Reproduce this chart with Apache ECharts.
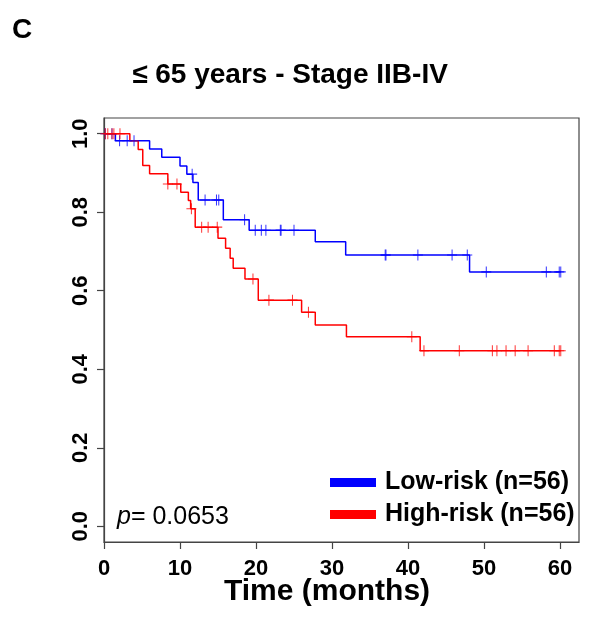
<!DOCTYPE html>
<html>
<head>
<meta charset="utf-8">
<script src="https://cdn.jsdelivr.net/npm/echarts@6/dist/echarts.min.js"></script>
<style>
  html, body { margin: 0; padding: 0; background: #fff; }
  #chart { width: 591px; height: 625px; }
</style>
</head>
<body>
<div id="chart"></div>
<script>
const FONT = "'Liberation Sans', Arial, sans-serif"

// Kaplan-Meier steps (time in months, survival)
const lowTimes = [0, 1.5, 6.0, 7.6, 10.0, 10.9, 11.7, 12.4, 15.7, 19.1, 27.8, 31.8, 48.1, 60.1]
const lowSurv = [1, 0.982, 0.961, 0.940, 0.918, 0.897, 0.876, 0.831, 0.781, 0.754, 0.725, 0.691, 0.648, 0.648]
const lowCensored = [0.17, 1.05, 2.05, 3.05, 3.95, 11.6, 13.3, 14.8, 15.1, 18.5, 19.9, 20.7, 21.3, 23.2, 23.3, 25.0,
  37.0, 37.1, 41.3, 45.8, 47.8, 50.3, 58.2, 59.9, 60.1]

const highTimes = [0, 3.4, 4.5, 5.1, 6.0, 8.4, 10.1, 11.1, 11.4, 12.0, 15.0, 16.0, 16.6, 17.0, 18.55, 20.3, 26.0, 27.8, 31.9, 41.6, 60.1]
const highSurv = [1, 0.982, 0.960, 0.919, 0.898, 0.872, 0.851, 0.830, 0.809, 0.762, 0.734, 0.708, 0.683, 0.657, 0.630, 0.576, 0.545, 0.513, 0.483, 0.447, 0.447]
const highCensored = [0.17, 0.5, 1.05, 1.3, 2.1, 8.4, 9.6, 11.5, 12.85, 13.7, 14.9, 19.6, 21.7, 24.8, 26.9,
  40.5, 42.1, 46.75, 51.1, 51.7, 52.9, 54.1, 55.8, 59.25, 59.9, 60.1]

const xTicks = [0, 10, 20, 30, 40, 50, 60]
const yTicks = [0, 0.2, 0.4, 0.6, 0.8, 1.0]

const groups = ['Low-risk (n=56)', 'High-risk (n=56)']
const colors = ['#0000ff', '#ff0000']

function survAt(times, surv, t) {
  let s = surv[0]
  for (let i = 0; i < times.length; i++) {
    if (times[i] <= t) s = surv[i]
  }
  return s
}

function steps(times, surv) {
  return times.map((t, i) => [t, surv[i]])
}

function marks(times, surv, cens) {
  return cens.map(t => [t, survAt(times, surv, t)])
}

const plus = 'path://M9,0h2v9h9v2h-9v9h-2v-9h-9v-2h9z'

const chart = echarts.init(document.getElementById('chart'))

chart.setOption({
  animation: false,
  textStyle: { fontFamily: FONT },
  grid: {
    left: 104, top: 118, width: 475, height: 424,
    show: true, borderColor: '#444', borderWidth: 1.2
  },
  legend: {
    data: groups,
    orient: 'vertical',
    left: 325,
    top: 465,
    itemWidth: 46,
    itemHeight: 9,
    itemGap: 7,
    icon: 'rect',
    textStyle: { fontFamily: FONT, fontSize: 25, fontWeight: 'bold', color: '#000', padding: [0, 0, 0, 4] }
  },
  xAxis: {
    type: 'value',
    min: 0,
    max: 62.5,
    splitLine: { show: false },
    axisLine: { show: true, onZero: false, lineStyle: { color: '#444', width: 1.2 } },
    axisTick: { show: true, length: 7, customValues: xTicks, lineStyle: { color: '#444', width: 1.2 } },
    axisLabel: {
      customValues: xTicks,
      margin: 16,
      fontFamily: FONT, fontSize: 22, fontWeight: 'bold', color: '#000'
    }
  },
  yAxis: {
    type: 'value',
    min: -0.04,
    max: 1.04,
    splitLine: { show: false },
    axisLine: { show: true, onZero: false, lineStyle: { color: '#444', width: 1.2 } },
    axisTick: { show: true, length: 7, customValues: yTicks, lineStyle: { color: '#444', width: 1.2 } },
    axisLabel: {
      customValues: yTicks,
      rotate: 90,
      margin: 12,
      formatter: v => v.toFixed(1),
      fontFamily: FONT, fontSize: 22, fontWeight: 'bold', color: '#000'
    }
  },
  series: [
    {
      name: groups[0],
      type: 'line',
      step: 'end',
      showSymbol: false,
      data: steps(lowTimes, lowSurv),
      lineStyle: { color: colors[0], width: 1.5 },
      itemStyle: { color: colors[0] },
      z: 3
    },
    {
      name: groups[1],
      type: 'line',
      step: 'end',
      showSymbol: false,
      data: steps(highTimes, highSurv),
      lineStyle: { color: colors[1], width: 1.5 },
      itemStyle: { color: colors[1] },
      z: 4
    },
    {
      name: 'low censored',
      type: 'scatter',
      symbol: plus,
      symbolSize: [10, 11],
      data: marks(lowTimes, lowSurv, lowCensored),
      itemStyle: { color: colors[0] },
      z: 5
    },
    {
      name: 'high censored',
      type: 'scatter',
      symbol: plus,
      symbolSize: [10, 11],
      data: marks(highTimes, highSurv, highCensored),
      itemStyle: { color: colors[1], opacity: 0.8 },
      z: 6
    }
  ],
  graphic: [
    {
      type: 'text', left: 12, top: 16,
      style: { text: 'C', fontFamily: FONT, fontSize: 28, fontWeight: 'bold', fill: '#000' }
    },
    {
      type: 'text', x: 290, y: 75,
      style: {
        text: '≤ 65 years - Stage IIB-IV', fontFamily: FONT, fontSize: 28, fontWeight: 'bold',
        fill: '#000', align: 'center', verticalAlign: 'middle'
      }
    },
    {
      type: 'text', x: 327, y: 592,
      style: {
        text: 'Time (months)', fontFamily: FONT, fontSize: 30, fontWeight: 'bold',
        fill: '#000', align: 'center', verticalAlign: 'middle'
      }
    },
    {
      type: 'text', x: 117, y: 517,
      style: {
        text: '{i|p}= 0.0653',
        verticalAlign: 'middle',
        fontFamily: FONT, fontSize: 25, fill: '#000',
        rich: {
          i: { fontFamily: FONT, fontSize: 25, fontStyle: 'italic', fill: '#000' }
        }
      }
    }
  ]
})
</script>
</body>
</html>
